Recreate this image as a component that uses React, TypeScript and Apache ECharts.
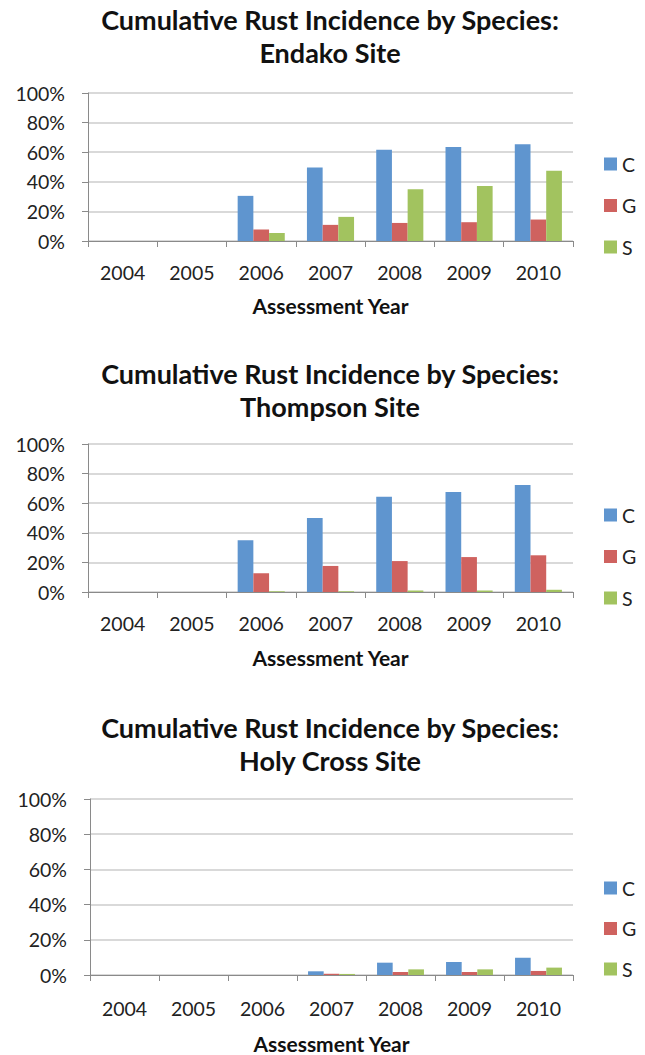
import { useEffect, useRef } from "react";
import * as echarts from "echarts";

const years = ["2004", "2005", "2006", "2007", "2008", "2009", "2010"];
const species = ["C", "G", "S"];
const endakoC = [0, 0, 30.5, 49.7, 61.7, 63.5, 65.3];
const endakoG = [0, 0, 7.7, 10.9, 12.2, 12.7, 14.5];
const endakoS = [0, 0, 5.4, 16.3, 34.9, 37.2, 47.4];
const thompsonC = [0, 0, 34.9, 50.0, 64.4, 67.6, 72.3];
const thompsonG = [0, 0, 12.6, 17.6, 20.9, 23.6, 24.8];
const thompsonS = [0, 0, 0.5, 0.5, 1.0, 1.0, 1.5];
const holyC = [0, 0, 0, 2.1, 7.0, 7.4, 9.8];
const holyG = [0, 0, 0, 0.7, 1.7, 1.7, 2.3];
const holyS = [0, 0, 0, 0.6, 3.2, 3.2, 4.2];
const siteNames = ["Endako Site", "Thompson Site", "Holy Cross Site"];
const titleMain = "Cumulative Rust Incidence by Species:";
const xAxisTitle = "Assessment Year";
const yMax = 100;
const yStep = 20;

const colors = ["#5F95CF", "#CF625F", "#A2C35F"];
const FONT = "Lato";

const panels = [
  { data: [endakoC, endakoG, endakoS], titleTop: 3, grid: { left: 88, top: 93, width: 485, height: 148 }, legendTop: 149, legendGap: 21.5, nameGap: 54, labelMargin: 21 },
  { data: [thompsonC, thompsonG, thompsonS], titleTop: 357, grid: { left: 88, top: 444, width: 485, height: 148 }, legendTop: 500, legendGap: 21.5, nameGap: 55, labelMargin: 21 },
  { data: [holyC, holyG, holyS], titleTop: 711, grid: { left: 90, top: 799, width: 483, height: 177 }, legendTop: 873, legendGap: 20.5, nameGap: 58, labelMargin: 23 },
];

export default function App() {
  const ref = useRef<HTMLDivElement>(null);
  useEffect(() => {
    if (!ref.current) return;
    const chart = echarts.init(ref.current, undefined, { renderer: "svg" });
    const option: any = {
      animation: false,
      backgroundColor: "#ffffff",
      title: panels.map((p, i) => ({
        text: titleMain + "\n" + siteNames[i],
        left: 330,
        textAlign: "center",
        top: p.titleTop,
        padding: 0,
        textStyle: { fontFamily: FONT, fontWeight: "bold", fontSize: 27, lineHeight: 33, color: "#111" },
      })),
      legend: panels.map((p) => ({
        data: species,
        orient: "vertical",
        left: 599,
        top: p.legendTop,
        itemWidth: 13,
        itemHeight: 13,
        itemGap: p.legendGap,
        icon: "rect",
        textStyle: { fontFamily: FONT, fontSize: 19.5, color: "#222" },
      })),
      grid: panels.map((p) => ({ ...p.grid, containLabel: false })),
      xAxis: panels.map((p, i) => ({
        type: "category",
        gridIndex: i,
        data: years,
        name: xAxisTitle,
        nameLocation: "middle",
        nameGap: p.nameGap,
        nameTextStyle: { fontFamily: FONT, fontWeight: "bold", fontSize: 21, color: "#111" },
        axisLine: { lineStyle: { color: "#8a8a8a", width: 1 } },
        axisTick: { show: true, length: 6, lineStyle: { color: "#8a8a8a" } },
        axisLabel: { fontFamily: FONT, fontSize: 19.5, color: "#222", margin: p.labelMargin },
        splitLine: { show: false },
      })),
      yAxis: panels.map((p, i) => ({
        type: "value",
        gridIndex: i,
        min: 0,
        max: yMax,
        interval: yStep,
        axisLine: { show: true, lineStyle: { color: "#8a8a8a", width: 1 } },
        axisTick: { show: true, length: 6, lineStyle: { color: "#8a8a8a" } },
        axisLabel: { fontFamily: FONT, fontSize: 19.5, color: "#222", margin: 23, formatter: "{value}%" },
        splitLine: { lineStyle: { color: "#cccccc", width: 1.5 } },
      })),
      series: panels.flatMap((p, i) =>
        species.map((s, j) => ({
          name: s,
          type: "bar",
          xAxisIndex: i,
          yAxisIndex: i,
          data: p.data[j],
          barGap: "0%",
          barCategoryGap: "32%",
          itemStyle: { color: colors[j] },
        }))
      ),
      color: colors,
    };
    chart.setOption(option);
    return () => chart.dispose();
  }, []);
  return <div ref={ref} style={{ position: "absolute", left: 0, top: 0, width: 645, height: 1055 }} />;
}
